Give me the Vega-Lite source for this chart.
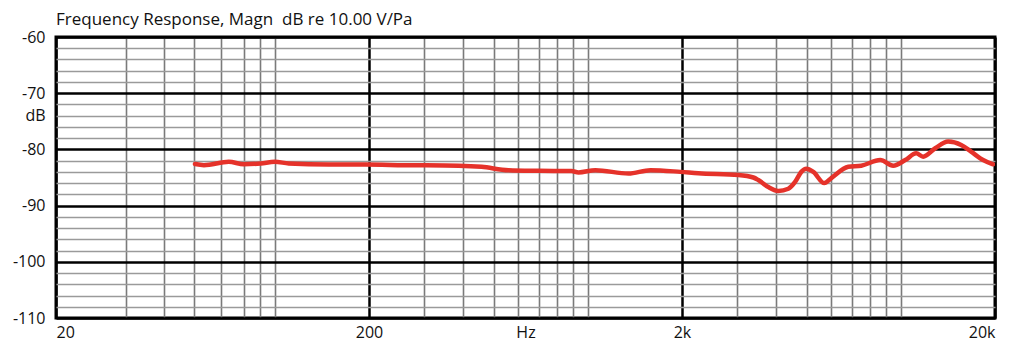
{
  "$schema": "https://vega.github.io/schema/vega-lite/v6.json",
  "autosize": {"type": "none"},
  "padding": {"left": 56, "top": 37, "right": 29, "bottom": 35},
  "width": 939,
  "height": 281,
  "background": "white",
  "title": {
    "text": "Frequency Response, Magn\u00a0 dB re 10.00 V/Pa",
    "anchor": "start",
    "frame": "group",
    "font": "Open Sans",
    "fontSize": 17,
    "fontWeight": "normal",
    "color": "#111",
    "baseline": "alphabetic",
    "offset": 10,
    "dy": 23
  },
  "config": {
    "view": {"stroke": "black", "strokeWidth": 3},
    "axis": {"labelFont": "Open Sans", "labelFontSize": 16, "labelColor": "#111"}
  },
  "data": {
    "values": [
      {"f": 55.6, "db": -82.6},
      {"f": 59.4, "db": -82.8},
      {"f": 71.3, "db": -82.2},
      {"f": 79.6, "db": -82.65},
      {"f": 90.2, "db": -82.5},
      {"f": 100, "db": -82.2},
      {"f": 110.8, "db": -82.5},
      {"f": 148.7, "db": -82.7},
      {"f": 195, "db": -82.7},
      {"f": 258, "db": -82.8},
      {"f": 387, "db": -82.9},
      {"f": 458, "db": -83.1},
      {"f": 558, "db": -83.7},
      {"f": 696, "db": -83.8},
      {"f": 887, "db": -83.85},
      {"f": 934, "db": -84.1},
      {"f": 1058, "db": -83.7},
      {"f": 1349, "db": -84.3},
      {"f": 1585, "db": -83.7},
      {"f": 1977, "db": -84.0},
      {"f": 2256, "db": -84.25},
      {"f": 3027, "db": -84.55},
      {"f": 3380, "db": -85.0},
      {"f": 3506, "db": -85.45},
      {"f": 3774, "db": -86.7},
      {"f": 4062, "db": -87.4},
      {"f": 4373, "db": -87.0},
      {"f": 4602, "db": -85.75},
      {"f": 4810, "db": -84.0},
      {"f": 4990, "db": -83.45},
      {"f": 5254, "db": -84.0},
      {"f": 5696, "db": -86.0},
      {"f": 5998, "db": -85.1},
      {"f": 6796, "db": -83.1},
      {"f": 7476, "db": -82.9},
      {"f": 8598, "db": -81.9},
      {"f": 9458, "db": -82.9},
      {"f": 10334, "db": -81.9},
      {"f": 11204, "db": -80.7},
      {"f": 11792, "db": -81.3},
      {"f": 12882, "db": -79.8},
      {"f": 14170, "db": -78.6},
      {"f": 15592, "db": -79.2},
      {"f": 16778, "db": -80.4},
      {"f": 18324, "db": -81.9},
      {"f": 19720, "db": -82.65}
    ]
  },
  "mark": {"type": "line", "color": "#e5322a", "strokeWidth": 4.5, "interpolate": "monotone", "strokeCap": "round", "strokeJoin": "round", "clip": true},
  "encoding": {
    "x": {
      "field": "f",
      "type": "quantitative",
      "scale": {"type": "log", "domain": [20, 20000], "nice": false},
      "axis": {
        "title": null,
        "values": [20, 33.4, 44.2, 55.4, 67.5, 79.5, 90, 100, 200, 300, 400, 500, 600, 700, 800, 900, 1000, 2000, 3000, 4000, 5000, 6000, 7000, 8000, 9000, 10000, 20000, 632.4555],
        "labelExpr": "datum.value == 20 ? '20' : datum.value == 200 ? '200' : datum.value == 2000 ? '2k' : datum.value == 20000 ? '20k' : (datum.value > 630 && datum.value < 635) ? 'Hz' : ''",
        "labelFlush": true,
        "labelOverlap": false,
        "labelBound": false,
        "labelPadding": 6,
        "ticks": false,
        "domain": false,
        "grid": true,
        "gridColor": {"condition": {"test": "indexof([20, 200, 2000, 20000], datum.value) >= 0", "value": "#000000"}, "value": "#7a7a7a"},
        "gridWidth": {"condition": {"test": "indexof([20, 200, 2000, 20000], datum.value) >= 0", "value": 2.5}, "value": 1.6},
        "gridOpacity": {"condition": {"test": "datum.value > 630 && datum.value < 635", "value": 0}, "value": 1}
      }
    },
    "y": {
      "field": "db",
      "type": "quantitative",
      "scale": {"domain": [-110, -60], "nice": false, "zero": false},
      "axis": {
        "title": null,
        "values": [-110, -108, -106, -104, -102, -100, -98, -96, -94, -92, -90, -88, -86, -84, -82, -80, -78, -76, -74, -72, -70, -68, -66, -64, -62, -60],
        "labelExpr": "datum.value % 10 == 0 ? '-' + abs(datum.value) : (datum.value == -74 ? 'dB' : '')",
        "labelOverlap": false,
        "labelBound": false,
        "labelPadding": 11,
        "ticks": false,
        "domain": false,
        "grid": true,
        "gridColor": {"condition": {"test": "datum.value % 10 == 0", "value": "#000000"}, "value": "#9a9a9a"},
        "gridWidth": {"condition": {"test": "datum.value % 10 == 0", "value": 2.5}, "value": 1.6}
      }
    }
  }
}
